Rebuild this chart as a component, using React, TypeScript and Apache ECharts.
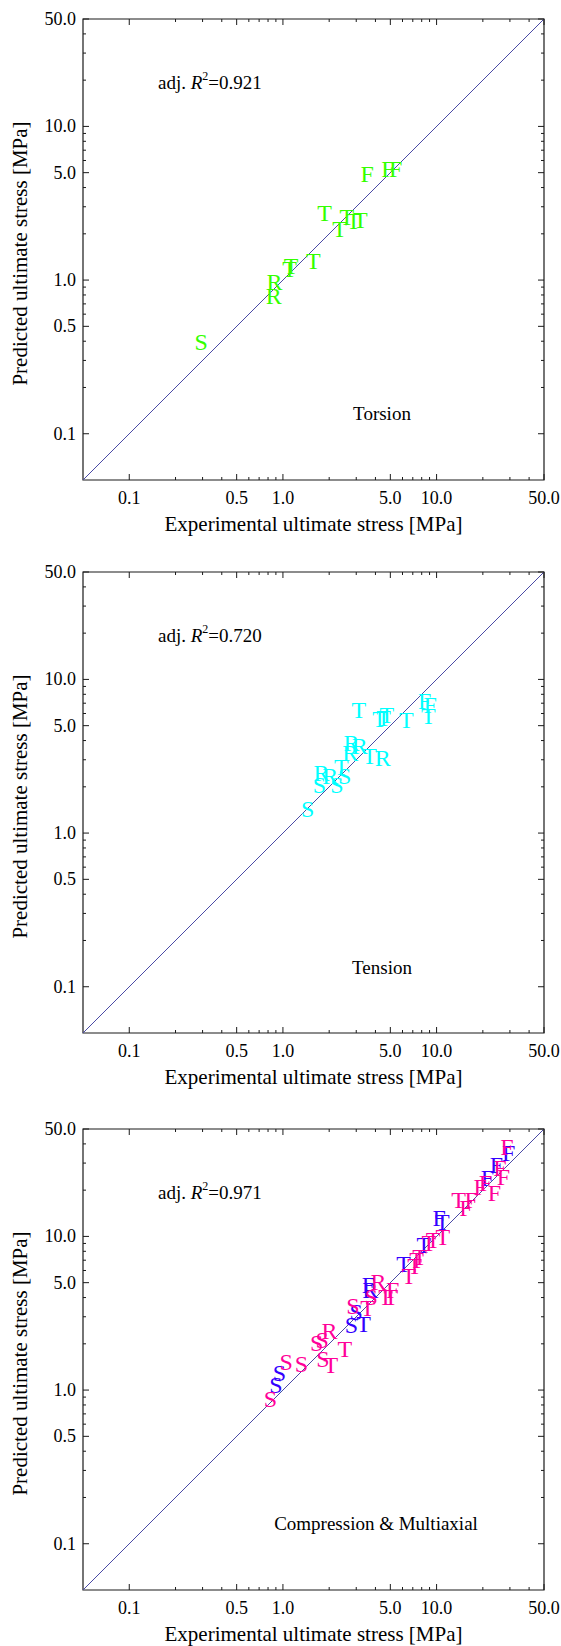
import React, { useEffect, useRef } from 'react';
import * as echarts from 'echarts';

// ---------- data ----------
const axisMin = 0.05;
const axisMax = 50;
const majorTicks = [0.1, 0.5, 1, 5, 10, 50];
const majorLabels = ['0.1', '0.5', '1.0', '5.0', '10.0', '50.0'];
const minorTicks = [0.2, 0.3, 0.4, 0.6, 0.7, 0.8, 0.9, 2, 3, 4, 6, 7, 8, 9, 20, 30, 40];

const torsionX = [0.294, 0.883, 0.87, 1.105, 1.13, 1.58, 1.87, 2.34, 2.61, 2.88, 3.19, 3.54, 4.82, 5.41];
const torsionY = [0.393, 0.965, 0.79, 1.18, 1.24, 1.34, 2.75, 2.15, 2.58, 2.43, 2.46, 4.9, 5.27, 5.27];
const torsionLetters = ['S', 'R', 'R', 'T', 'T', 'T', 'T', 'T', 'T', 'T', 'T', 'F', 'F', 'F'];

const tensionX = [1.45, 1.73, 2.25, 2.52, 1.78, 2.03, 2.4, 2.79, 3.16, 2.74, 3.66, 4.47, 3.12, 4.26, 4.52, 4.75, 6.35, 8.38, 9.08, 8.84];
const tensionY = [1.44, 2.06, 2.06, 2.36, 2.46, 2.36, 2.69, 3.86, 3.71, 3.32, 3.16, 3.08, 6.35, 5.52, 5.61, 5.89, 5.41, 7.19, 6.85, 5.74];
const tensionLetters = ['S', 'S', 'S', 'S', 'R', 'R', 'T', 'R', 'R', 'R', 'T', 'R', 'T', 'T', 'T', 'T', 'T', 'F', 'F', 'T'];

const compBlueX = [0.9, 0.95, 2.79, 3.35, 3.0, 3.6, 3.7, 6.1, 8.25, 10.4, 10.9, 21.4, 24.5, 29.5];
const compBlueY = [1.08, 1.29, 2.65, 2.69, 3.24, 4.8, 4.5, 6.6, 8.8, 13.1, 12.5, 23.9, 29.2, 34.7];
const compBlueLetters = ['S', 'S', 'S', 'T', 'S', 'F', 'R', 'T', 'T', 'F', 'T', 'F', 'F', 'F'];

const compPinkX = [0.83, 1.05, 1.32, 1.66, 1.8, 2.01, 1.82, 2.05, 2.53, 2.85, 3.56, 3.75, 4.18, 4.65, 5.04, 5.17, 6.6, 7.2, 7.4, 7.75, 8.9, 9.5, 11.0, 13.9, 16.8, 15.5, 19.2, 20.8, 23.8, 25.8, 27.2, 28.7];
const compPinkY = [0.88, 1.53, 1.48, 2.03, 2.12, 2.43, 1.59, 1.46, 1.86, 3.55, 3.41, 4.05, 5.07, 4.05, 4.05, 4.48, 5.5, 6.4, 7.0, 7.4, 9.1, 9.5, 9.96, 17.3, 17.3, 15.2, 21.0, 22.1, 19.1, 27.7, 24.5, 38.3];
const compPinkLetters = ['S', 'S', 'S', 'S', 'S', 'R', 'S', 'T', 'T', 'S', 'T', 'S', 'R', 'T', 'T', 'F', 'T', 'T', 'T', 'T', 'T', 'T', 'T', 'T', 'F', 'F', 'F', 'F', 'F', 'F', 'F', 'F'];

const r2Values = ['0.921', '0.720', '0.971'];
const panelLabels = ['Torsion', 'Tension', 'Compression & Multiaxial'];
const xTitle = 'Experimental ultimate stress [MPa]';
const yTitle = 'Predicted ultimate stress [MPa]';

// ---------- styles ----------
const FONT = '"Liberation Serif", "Times New Roman", serif';
const GREEN = '#33ff00';
const CYAN = '#00ffff';
const BLUE = '#3300ff';
const PINK = '#ff0099';
const LINE = '#4a4aa5';
const FRAME = '#1a1a1a';

const GRID_LEFT = 83;
const GRID_SIZE = 461;
const gridTops = [19, 572, 1129];
const labelPos = [
  [382, 413],
  [382, 967],
  [376, 1523],
];

const panelSeries = [
  [{ x: torsionX, y: torsionY, l: torsionLetters, c: GREEN }],
  [{ x: tensionX, y: tensionY, l: tensionLetters, c: CYAN }],
  [
    { x: compBlueX, y: compBlueY, l: compBlueLetters, c: BLUE },
    { x: compPinkX, y: compPinkY, l: compPinkLetters, c: PINK },
  ],
];

function buildOption() {
  const allTicks = [
    ...majorTicks.map((v, i) => ({ v, major: true, label: majorLabels[i] })),
    ...minorTicks.map((v) => ({ v, major: false, label: '' })),
  ];

  const grid: any[] = [];
  const xAxis: any[] = [];
  const yAxis: any[] = [];
  const series: any[] = [];
  const graphic: any[] = [];

  gridTops.forEach((top, gi) => {
    grid.push({
      left: GRID_LEFT,
      top,
      width: GRID_SIZE,
      height: GRID_SIZE,
      show: true,
      borderColor: FRAME,
      borderWidth: 1.2,
      backgroundColor: 'transparent',
    });
    const ax = {
      type: 'log',
      logBase: 10,
      min: axisMin,
      max: axisMax,
      gridIndex: gi,
      axisLine: { show: false },
      axisTick: { show: false },
      axisLabel: { show: false },
      splitLine: { show: false },
      minorTick: { show: false },
    };
    xAxis.push({ ...ax });
    yAxis.push({ ...ax });

    // diagonal 1:1 line
    series.push({
      type: 'line',
      xAxisIndex: gi,
      yAxisIndex: gi,
      data: [
        [axisMin, axisMin],
        [axisMax, axisMax],
      ],
      symbol: 'none',
      silent: true,
      lineStyle: { color: LINE, width: 1 },
      z: 2,
    });

    // ticks + tick labels
    series.push({
      type: 'custom',
      xAxisIndex: gi,
      yAxisIndex: gi,
      silent: true,
      data: allTicks.map((t) => [t.v, t.v]),
      renderItem: (params: any, api: any) => {
        const t = allTicks[params.dataIndex];
        const cs = params.coordSys;
        const px = api.coord([t.v, axisMin])[0];
        const py = api.coord([axisMin, t.v])[1];
        const L = t.major ? 6 : 3;
        const bottom = cs.y + cs.height;
        const right = cs.x + cs.width;
        const ls = { stroke: FRAME, lineWidth: 1 };
        const children: any[] = [
          { type: 'line', shape: { x1: px, y1: bottom, x2: px, y2: bottom - L }, style: ls },
          { type: 'line', shape: { x1: px, y1: cs.y, x2: px, y2: cs.y + L }, style: ls },
          { type: 'line', shape: { x1: cs.x, y1: py, x2: cs.x + L, y2: py }, style: ls },
          { type: 'line', shape: { x1: right, y1: py, x2: right - L, y2: py }, style: ls },
        ];
        if (t.major) {
          children.push({
            type: 'text',
            x: px,
            y: bottom + 18,
            style: { text: t.label, fill: '#000', fontSize: 18, fontFamily: FONT, align: 'center', verticalAlign: 'middle' },
          });
          children.push({
            type: 'text',
            x: cs.x - 7,
            y: py,
            style: { text: t.label, fill: '#000', fontSize: 18, fontFamily: FONT, align: 'right', verticalAlign: 'middle' },
          });
        }
        return { type: 'group', children };
      },
      z: 3,
    });

    // letter markers
    panelSeries[gi].forEach((s) => {
      series.push({
        type: 'custom',
        xAxisIndex: gi,
        yAxisIndex: gi,
        silent: true,
        data: s.x.map((x, i) => [x, s.y[i]]),
        renderItem: (params: any, api: any) => {
          const p = api.coord([api.value(0), api.value(1)]);
          return {
            type: 'text',
            x: p[0],
            y: p[1],
            style: {
              text: s.l[params.dataIndex],
              fill: s.c,
              fontSize: 24,
              fontFamily: FONT,
              align: 'center',
              verticalAlign: 'middle',
            },
          };
        },
        z: 4,
      });
    });

    // annotation texts
    graphic.push({
      type: 'text',
      x: 158,
      y: top + 63,
      style: {
        text: `{a|adj. }{i|R}{s|2}{a|=${r2Values[gi]}}`,
        align: 'left',
        verticalAlign: 'middle',
        rich: {
          a: { fontSize: 19, fontFamily: FONT, fill: '#000', lineHeight: 24 },
          i: { fontSize: 19, fontFamily: FONT, fill: '#000', fontStyle: 'italic', lineHeight: 24 },
          s: { fontSize: 12, fontFamily: FONT, fill: '#000', lineHeight: 12, verticalAlign: 'top' },
        },
      },
    });
    graphic.push({
      type: 'text',
      x: labelPos[gi][0],
      y: labelPos[gi][1],
      style: { text: panelLabels[gi], fill: '#000', fontSize: 19, fontFamily: FONT, align: 'center', verticalAlign: 'middle' },
    });
    graphic.push({
      type: 'text',
      x: GRID_LEFT + GRID_SIZE / 2,
      y: top + GRID_SIZE + 44,
      style: { text: xTitle, fill: '#000', fontSize: 21, fontFamily: FONT, align: 'center', verticalAlign: 'middle' },
    });
    graphic.push({
      type: 'text',
      x: 20,
      y: top + GRID_SIZE / 2 + 4,
      rotation: Math.PI / 2,
      style: { text: yTitle, fill: '#000', fontSize: 21, fontFamily: FONT, align: 'center', verticalAlign: 'middle' },
    });
  });

  return {
    animation: false,
    backgroundColor: '#ffffff',
    textStyle: { fontFamily: FONT },
    grid,
    xAxis,
    yAxis,
    series,
    graphic,
  };
}

export default function App() {
  const ref = useRef<HTMLDivElement>(null);
  useEffect(() => {
    document.body.style.margin = '0';
    const chart = echarts.init(ref.current!, null, { renderer: 'svg' });
    chart.setOption(buildOption() as any);
    return () => chart.dispose();
  }, []);
  return <div ref={ref} style={{ width: 561, height: 1646 }} />;
}
